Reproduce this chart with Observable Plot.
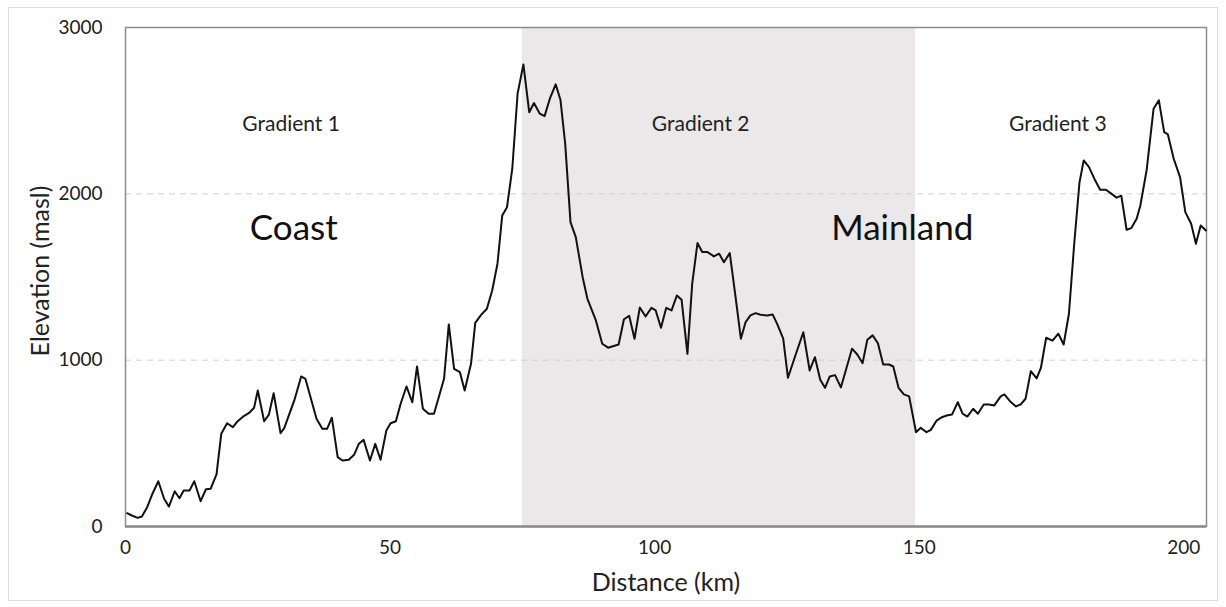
<!DOCTYPE html>
<html>
<head>
<meta charset="utf-8">
<script src="https://cdn.jsdelivr.net/npm/d3@7"></script>
<script src="https://cdn.jsdelivr.net/npm/@observablehq/plot@0.6"></script>
<style>
  html, body { margin: 0; padding: 0; background: #fff; }
  #wrap { position: relative; width: 1226px; height: 607px; }
  #border { position: absolute; left: 8px; top: 7px; width: 1208px; height: 592px; border: 1px solid #dcdcdc; pointer-events: none; }
  svg { font-family: Lato, "Open Sans", sans-serif; }
</style>
</head>
<body>
<div id="wrap"><div id="border"></div></div>
<script>
const distanceKm = [0.3,1.2,2.3,3.1,4.1,5.1,6.2,7.3,8.2,9.3,10.2,11.0,12.1,13.0,14.2,15.2,16.1,17.2,18.1,19.2,20.3,21.2,22.2,23.3,24.3,25.0,26.2,27.1,28.0,29.3,30.0,31.9,33.2,34.0,36.1,37.2,38.1,39.0,40.1,41.0,42.2,43.2,44.1,45.0,46.2,47.2,48.2,49.3,50.1,51.1,52.0,53.1,54.2,55.1,56.2,57.3,58.3,59.3,60.2,61.1,62.1,63.2,64.1,65.3,66.1,67.2,68.3,69.3,70.3,71.2,72.1,73.1,74.1,75.2,76.3,77.2,78.3,79.2,80.2,81.3,82.2,83.1,84.1,85.1,86.4,87.3,88.9,90.1,91.2,93.2,94.2,95.2,96.2,97.2,98.3,99.4,100.2,101.2,102.2,103.2,104.2,105.1,106.2,107.1,108.1,109.0,110.0,111.2,112.2,113.1,114.2,115.3,116.3,117.2,118.1,119.1,120.0,121.3,122.3,123.2,124.3,125.2,126.6,128.1,129.3,130.3,131.3,132.2,133.1,134.1,135.2,136.3,137.3,138.3,139.3,140.2,141.2,142.2,143.2,144.3,145.1,146.1,147.1,148.1,149.4,150.3,151.4,152.2,153.3,154.3,155.2,156.2,157.3,158.2,159.1,160.2,161.1,162.2,163.2,164.2,165.4,166.1,167.2,168.3,169.2,170.1,171.1,172.2,173.0,174.0,175.2,176.3,177.3,178.3,179.3,180.3,181.1,182.1,183.1,184.2,185.3,186.3,187.3,188.2,189.2,190.1,191.1,191.8,193.0,194.3,195.3,196.3,197.0,198.1,199.3,200.3,201.4,202.3,203.2,204.2];
const elevationM = [80,66,52,60,116,197,272,167,120,212,170,216,216,272,152,224,227,313,557,621,597,633,660,681,714,818,633,673,801,561,591,758,902,888,648,587,587,654,417,397,401,431,497,521,397,497,401,577,621,633,738,842,747,962,708,678,678,788,888,1215,948,928,818,978,1224,1272,1309,1419,1580,1870,1920,2151,2602,2778,2491,2546,2482,2467,2572,2658,2566,2301,1830,1740,1499,1369,1239,1099,1075,1094,1246,1266,1129,1317,1263,1315,1299,1195,1315,1299,1389,1363,1038,1459,1704,1650,1650,1624,1640,1589,1644,1379,1129,1229,1269,1283,1273,1269,1275,1215,1129,894,1028,1168,938,1018,882,834,902,910,836,958,1069,1034,982,1123,1149,1102,974,974,962,834,794,782,567,593,567,581,637,657,667,673,747,678,661,708,678,734,734,728,782,794,752,722,734,768,934,890,953,1135,1118,1159,1094,1279,1700,2070,2201,2161,2091,2025,2025,2001,1977,1989,1784,1794,1850,1930,2145,2512,2562,2371,2357,2211,2100,1890,1820,1700,1810,1780];

const xTicks = [0, 50, 100, 150, 200];
const yTicks = [0, 1000, 2000, 3000];
const gridValues = [1000, 2000];

const bandStart = [75.0];
const bandEnd = [149.3];

const gradientLabels = ["Gradient 1", "Gradient 2", "Gradient 3"];
const gradientX = [31.3, 108.7, 176.2];
const gradientY = [2417, 2417, 2417];

const regionLabels = ["Coast", "Mainland"];
const regionX = [31.8, 146.8];
const regionY = [1790, 1790];

const profile = distanceKm.map((d, i) => ({d, e: elevationM[i]}));
const band = bandStart.map((s, i) => ({x1: s, x2: bandEnd[i]}));
const grads = gradientLabels.map((t, i) => ({t, x: gradientX[i], y: gradientY[i]}));
const regions = regionLabels.map((t, i) => ({t, x: regionX[i], y: regionY[i]}));

const chart = Plot.plot({
  width: 1226,
  height: 607,
  marginLeft: 125,
  marginRight: 20,
  marginTop: 27,
  marginBottom: 81,
  style: {fontFamily: "Lato, 'Open Sans', sans-serif", background: "transparent", overflow: "visible"},
  x: {domain: [0, 204.3]},
  y: {domain: [0, 3000]},
  marks: [
    Plot.rect(band, {x1: "x1", x2: "x2", y1: 0, y2: 3000, fill: "#eae8e9"}),
    Plot.ruleY(gridValues, {stroke: "#d0d0d0", strokeDasharray: "6,5", strokeWidth: 1}),
    Plot.frame({stroke: "#8c8c8c", strokeWidth: 1.5}),
    Plot.ruleY([0], {stroke: "#8c8c8c", strokeWidth: 2.5}),
    Plot.axisX({ticks: xTicks, tickSize: 0, tickPadding: 14, fontSize: 19, label: null, fill: "#222", tickFormat: d => String(d)}),
    Plot.axisY({ticks: yTicks, tickSize: 0, tickPadding: 23, fontSize: 19, label: null, fill: "#222", tickFormat: d => String(d)}),
    Plot.text(["Distance (km)"], {frameAnchor: "bottom", dy: 64, fontSize: 25, fill: "#222"}),
    Plot.text(["Elevation (masl)"], {frameAnchor: "left", textAnchor: "middle", lineAnchor: "middle", dx: -85, dy: -6, rotate: -90, fontSize: 25, fill: "#222"}),
    Plot.line(profile, {x: "d", y: "e", stroke: "#111", strokeWidth: 2}),
    Plot.text(grads, {x: "x", y: "y", text: "t", fontSize: 21, fill: "#222"}),
    Plot.text(regions, {x: "x", y: "y", text: "t", fontSize: 35, fill: "#111"})
  ]
});
document.getElementById("wrap").prepend(chart);
</script>
</body>
</html>
